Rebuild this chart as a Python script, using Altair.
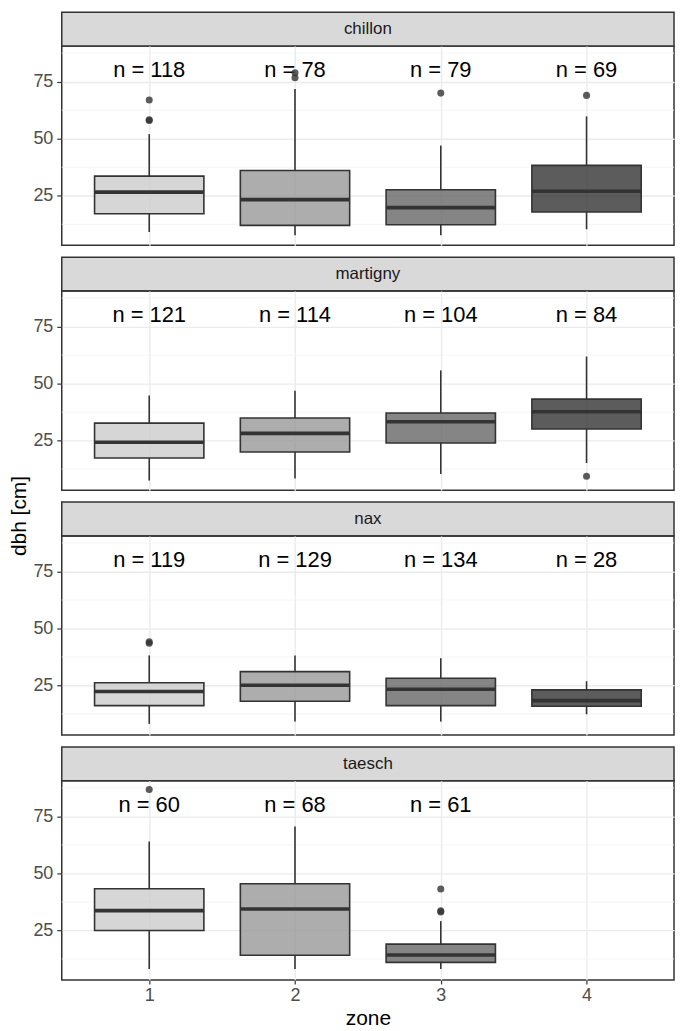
import altair as alt
import pandas as pd

# ---------------- data ----------------
sites = ["chillon", "martigny", "nax", "taesch"]
zones = {"chillon": [1, 2, 3, 4], "martigny": [1, 2, 3, 4], "nax": [1, 2, 3, 4], "taesch": [1, 2, 3]}

whisk_lo = {"chillon": [9.1, 7.7, 7.7, 10.3], "martigny": [7.5, 8.4, 10.4, 15.2],
            "nax": [8.2, 9.2, 9.2, 12.4], "taesch": [8.1, 8.1, 8.1]}
q1 = {"chillon": [17.1, 12.0, 12.3, 17.9], "martigny": [17.4, 20.0, 24.0, 30.1],
      "nax": [16.2, 18.1, 16.2, 15.9], "taesch": [25.0, 14.1, 11.0]}
median = {"chillon": [26.6, 23.3, 19.8, 27.0], "martigny": [24.3, 28.2, 33.3, 37.7],
          "nax": [22.4, 25.1, 23.4, 18.4], "taesch": [33.7, 34.4, 14.2]}
q3 = {"chillon": [33.6, 36.1, 27.6, 38.3], "martigny": [32.7, 34.9, 37.1, 43.2],
      "nax": [26.2, 31.1, 28.2, 23.1], "taesch": [43.3, 45.5, 19.0]}
whisk_hi = {"chillon": [52.0, 71.8, 47.0, 59.8], "martigny": [44.8, 46.9, 55.8, 61.9],
            "nax": [38.2, 38.2, 37.0, 26.9], "taesch": [64.0, 70.6, 29.1]}
n_obs = {"chillon": [118, 78, 79, 69], "martigny": [121, 114, 104, 84],
         "nax": [119, 129, 134, 28], "taesch": [60, 68, 61]}

outlier_site = ["chillon", "chillon", "chillon", "chillon", "chillon", "chillon", "chillon",
                "martigny", "nax", "nax", "taesch", "taesch", "taesch", "taesch"]
outlier_zone = [1, 1, 1, 2, 2, 3, 4, 4, 1, 1, 1, 3, 3, 3]
outlier_dbh = [67.0, 58.0, 58.3, 78.9, 76.7, 70.0, 69.0, 9.4, 43.5, 44.2, 86.8, 43.2, 33.1, 33.6]

label_y = 80
minor_grid = [12.5, 37.5, 62.5, 87.5]
y_ticks = [25, 50, 75]
x_ticks = [1, 2, 3, 4]
grey_fills = ["#CCCCCC", "#999999", "#666666", "#333333"]
y_title = "dbh [cm]"
x_title = "zone"

rows = []
for s in sites:
    for i, z in enumerate(zones[s]):
        rows.append(dict(site=s, zone=z, lo=whisk_lo[s][i], q1=q1[s][i], med=median[s][i],
                         q3=q3[s][i], hi=whisk_hi[s][i], n=n_obs[s][i]))
boxes = pd.DataFrame(rows)
outliers = pd.DataFrame({"site": outlier_site, "zone": outlier_zone, "dbh": outlier_dbh})
minor_df = pd.DataFrame({"y": minor_grid})

# ---------------- layout ----------------
W = 615
H = 200
STRIP_H = 34
GAP = 12
DARK = "#333333"
GRID = "#EBEBEB"
FONT = "Liberation Sans"

xscale = alt.Scale(domain=[0.4, 4.6], nice=False, zero=False)
yscale = alt.Scale(domain=[3.3, 90.6], nice=False, zero=False)
cscale = alt.Scale(domain=[1, 2, 3, 4], range=grey_fills)

yaxis = alt.Axis(values=y_ticks, title=None, grid=True, gridColor=GRID, gridWidth=1.4,
                 tickColor=DARK, tickSize=5, tickWidth=1.2, labelFontSize=18,
                 labelColor="#4D4D4D", domain=False, labelPadding=4)


def xaxis(bottom):
    if bottom:
        return alt.Axis(values=x_ticks, format="d", title=x_title, grid=True, gridColor=GRID,
                        gridWidth=1.4, tickColor=DARK, tickSize=4, tickWidth=1.2,
                        labelFontSize=18, labelColor="#4D4D4D", labelPadding=3, domain=False,
                        titleFontSize=21, titleFontWeight="normal", titleColor="#000000",
                        titlePadding=3)
    return alt.Axis(values=x_ticks, labels=False, ticks=False, title=None, grid=True,
                    gridColor=GRID, gridWidth=1.4, domain=False)


def plot_panel(site, bottom, with_ytitle):
    bdf = boxes[boxes.site == site]
    odf = outliers[outliers.site == site]
    base = alt.Chart(bdf).transform_calculate(
        xlo="datum.zone - 0.375", xhi="datum.zone + 0.375", label="'n = ' + datum.n",
        ly=str(label_y))
    minor = alt.Chart(minor_df).mark_rule(color="#F2F2F2", strokeWidth=0.8).encode(
        y=alt.Y("y:Q", scale=yscale, axis=yaxis))
    w_lo = base.mark_rule(color=DARK, strokeWidth=1.6).encode(
        x=alt.X("zone:Q", scale=xscale, axis=xaxis(bottom)),
        y=alt.Y("lo:Q", scale=yscale), y2="q1:Q")
    w_hi = base.mark_rule(color=DARK, strokeWidth=1.6).encode(
        x=alt.X("zone:Q", scale=xscale), y=alt.Y("q3:Q", scale=yscale), y2="hi:Q")
    box = base.mark_rect(stroke=DARK, strokeWidth=1.6, fillOpacity=0.8).encode(
        x=alt.X("xlo:Q", scale=xscale), x2="xhi:Q",
        y=alt.Y("q1:Q", scale=yscale), y2="q3:Q",
        fill=alt.Fill("zone:O", scale=cscale, legend=None))
    med = base.mark_rule(color=DARK, strokeWidth=3.6).encode(
        x=alt.X("xlo:Q", scale=xscale), x2="xhi:Q", y=alt.Y("med:Q", scale=yscale))
    txt = base.mark_text(fontSize=22, color="#000000", baseline="middle").encode(
        x=alt.X("zone:Q", scale=xscale), y=alt.Y("ly:Q", scale=yscale), text="label:N")
    pts = alt.Chart(odf).mark_circle(size=50, color=DARK, opacity=0.8).encode(
        x=alt.X("zone:Q", scale=xscale), y=alt.Y("dbh:Q", scale=yscale))
    layers = [minor, w_lo, w_hi, box, med, txt, pts]
    if with_ytitle:
        yt = alt.Chart(pd.DataFrame({"t": [y_title]})).mark_text(
            angle=270, fontSize=21, color="#000000", baseline="middle", align="center").encode(
            x=alt.value(-42), y=alt.value(-20), text="t:N")
        layers.append(yt)
    return alt.layer(*layers).properties(width=W, height=H)


def strip_panel(site, top_gap):
    sdf = pd.DataFrame({"site": [site]})
    srect = alt.Chart(sdf).mark_rect(fill="#D9D9D9", stroke=DARK, strokeWidth=1.5).encode(
        x=alt.value(0), x2=alt.value(W), y=alt.value(top_gap), y2=alt.value(top_gap + STRIP_H))
    stext = alt.Chart(sdf).mark_text(fontSize=17, color="#1A1A1A", baseline="middle").encode(
        x=alt.value(W / 2), y=alt.value(top_gap + STRIP_H / 2), text="site:N")
    return alt.layer(srect, stext).properties(
        width=W, height=top_gap + STRIP_H, view=alt.ViewBackground(strokeOpacity=0))


items = []
for i, s in enumerate(sites):
    items.append(strip_panel(s, 0 if i == 0 else GAP))
    items.append(plot_panel(s, i == len(sites) - 1, s == "nax"))

chart = alt.vconcat(*items, spacing=0, bounds="flush").properties(
    padding={"left": 0, "top": 1, "right": 1, "bottom": 0}
).configure(font=FONT).configure_view(stroke=DARK, strokeWidth=1.5)

chart.save("out.html", embed_options={"renderer": "svg", "actions": False})
